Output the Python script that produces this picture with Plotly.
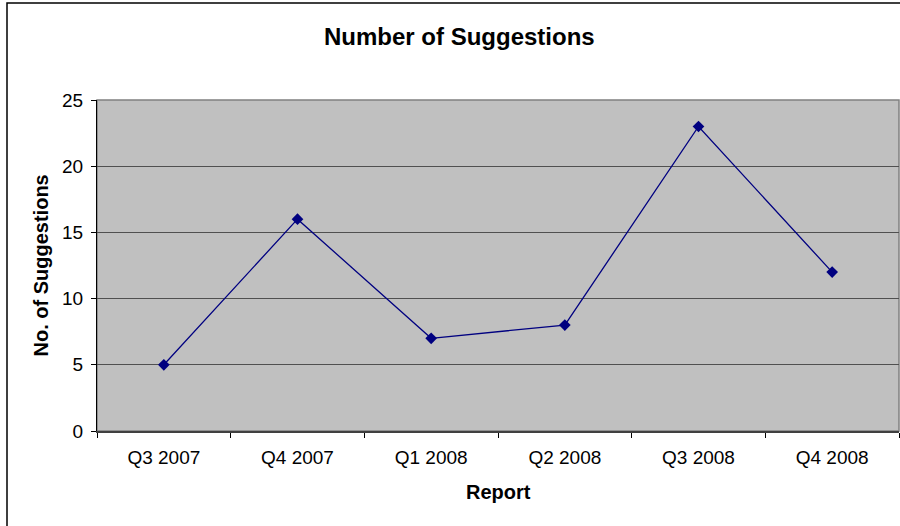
import plotly.graph_objects as go

categories = ["Q3 2007", "Q4 2007", "Q1 2008", "Q2 2008", "Q3 2008", "Q4 2008"]
suggestions = [5, 16, 7, 8, 23, 12]
y_ticks = [0, 5, 10, 15, 20, 25]

FONT = "Liberation Sans, Arial, sans-serif"

fig = go.Figure()
fig.add_trace(go.Scatter(
    x=categories, y=suggestions, mode="lines+markers",
    line=dict(color="#000080", width=1.3),
    marker=dict(symbol="diamond", size=9, color="#000080"),
    showlegend=False,
))

fig.update_layout(
    width=900, height=526,
    margin=dict(l=97, r=1, t=100, b=95),
    paper_bgcolor="white", plot_bgcolor="#C0C0C0",
    font=dict(family=FONT, size=19, color="black"),
    xaxis=dict(
        type="category", range=[-0.5, 5.5],
        tickson="boundaries", ticks="outside", ticklen=5, tickcolor="black",
        showline=True, linecolor="#404040", linewidth=2,
        showgrid=False, zeroline=False,
        tickfont=dict(family=FONT, size=19),
        ticklabelstandoff=8,
    ),
    yaxis=dict(
        range=[0, 25], tickvals=y_ticks,
        ticks="outside", ticklen=5, tickcolor="black",
        showline=True, linecolor="black", linewidth=1,
        showgrid=True, gridcolor="#505050", gridwidth=1.4,
        zeroline=False,
        tickfont=dict(family=FONT, size=19),
        ticklabelstandoff=4,
    ),
    shapes=[
        dict(type="rect", xref="paper", yref="paper", x0=0, x1=1, y0=0, y1=1,
             line=dict(color="#808080", width=1.5), layer="below"),
        dict(type="rect", xref="paper", yref="paper",
             x0=(7 - 97) / 802, x1=1.2, y0=-0.5, y1=(431 - 3) / 331,
             line=dict(color="black", width=1.5)),
    ],
    annotations=[
        dict(text="<b>Number of Suggestions</b>", xref="paper", yref="paper",
             x=(459.5 - 97) / 802, y=(431 - 37) / 331, xanchor="center", yanchor="middle",
             showarrow=False, font=dict(family=FONT, size=24)),
        dict(text="<b>No. of Suggestions</b>", xref="paper", yref="paper",
             x=(40 - 97) / 802, y=0.5, xanchor="center", yanchor="middle", textangle=-90,
             showarrow=False, font=dict(family=FONT, size=20)),
        dict(text="<b>Report</b>", xref="paper", yref="paper",
             x=(498 - 97) / 802, y=(431 - 492) / 331, xanchor="center", yanchor="middle",
             showarrow=False, font=dict(family=FONT, size=20)),
    ],
)

fig.write_html(
    "out.html",
    config={"displayModeBar": False},
    post_script="document.body.style.margin='0';document.body.style.overflow='hidden';",
)
